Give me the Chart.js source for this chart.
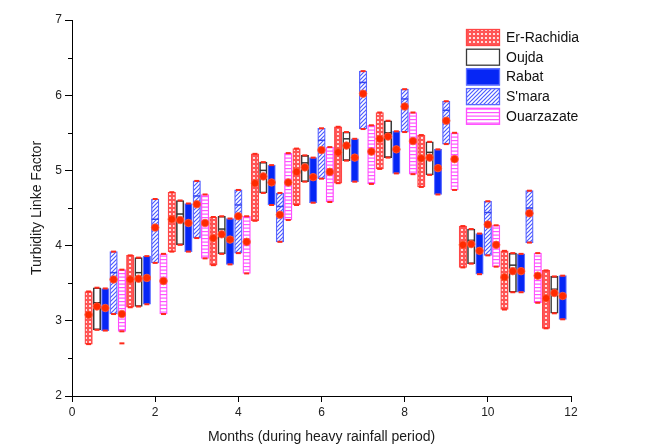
<!DOCTYPE html>
<html>
<head>
<meta charset="utf-8">
<script src="https://cdn.jsdelivr.net/npm/chart.js@4.4.0/dist/chart.umd.min.js"></script>
<style>
  html, body { margin: 0; padding: 0; background: #ffffff; }
  #wrap { width: 647px; height: 448px; }
</style>
</head>
<body>
<div id="wrap"><canvas id="chart" width="647" height="448"></canvas></div>
<script>
// months on the x axis, one group of bars per month
const months = [1, 2, 3, 4, 5, 6, 7, 8, 9, 10, 11, 12];
const stations = ['Er-Rachidia', 'Oujda', 'Rabat', "S'mara", 'Ouarzazate'];

// range (low / high) and mean of the Linke turbidity factor, per station
const erRachidiaLow  = [2.69, 3.18, 3.92, 3.74, 4.33, 4.54, 4.83, 5.02, 4.78, 3.71, 3.15, 2.90];
const erRachidiaHigh = [3.39, 3.87, 4.71, 4.38, 5.22, 5.29, 5.58, 5.77, 5.47, 4.26, 3.93, 3.67];
const erRachidiaMean = [3.08, 3.55, 4.35, 4.10, 4.83, 4.98, 5.24, 5.42, 5.16, 4.01, 3.58, 3.30];

const oujdaLow    = [2.88, 3.19, 4.01, 3.89, 4.70, 4.85, 5.13, 5.17, 4.94, 3.76, 3.38, 3.10];
const oujdaHigh   = [3.44, 3.84, 4.60, 4.39, 5.11, 5.20, 5.51, 5.66, 5.38, 4.22, 3.90, 3.59];
const oujdaMean   = [3.19, 3.56, 4.34, 4.15, 4.92, 5.04, 5.33, 5.45, 5.17, 4.02, 3.66, 3.37];
const oujdaMedian = [3.24, 3.64, 4.42, 4.22, 5.00, 5.10, 5.42, 5.50, 5.24, 4.07, 3.74, 3.42];

const rabatLow  = [2.87, 3.22, 3.92, 3.75, 4.54, 4.57, 4.85, 4.96, 4.68, 3.62, 3.38, 3.02];
const rabatHigh = [3.43, 3.86, 4.56, 4.36, 5.07, 5.17, 5.42, 5.52, 5.28, 4.16, 3.89, 3.60];
const rabatMean = [3.17, 3.57, 4.30, 4.08, 4.84, 4.91, 5.17, 5.28, 5.03, 3.93, 3.66, 3.33];

const smaraLow    = [3.09, 3.77, 4.10, 3.90, 4.05, 4.89, 5.55, 5.51, 5.35, 3.87, 4.04, null];
const smaraHigh   = [3.92, 4.62, 4.86, 4.74, 4.70, 5.56, 6.32, 6.08, 5.92, 4.59, 4.73, null];
const smaraMean   = [3.55, 4.24, 4.55, 4.39, 4.41, 5.27, 6.02, 5.85, 5.66, 4.28, 4.43, null];
const smaraMedian = [3.64, 4.35, 4.66, 4.54, 4.52, 5.40, 6.17, 5.95, 5.80, 4.44, 4.50, null];

const ouarzazateLow     = [2.86, 3.09, 3.83, 3.63, 4.34, 4.58, 4.82, 4.95, 4.74, 3.72, 3.24, null];
const ouarzazateHigh    = [3.68, 3.89, 4.68, 4.39, 5.23, 5.31, 5.60, 5.77, 5.50, 4.27, 3.90, null];
const ouarzazateMean    = [3.09, 3.53, 4.30, 4.05, 4.84, 4.98, 5.25, 5.39, 5.15, 4.01, 3.60, null];
const ouarzazateOutlier = [2.70, null, null, null, null, null, null, null, null, null, null, null];

const lows  = [erRachidiaLow, oujdaLow, rabatLow, smaraLow, ouarzazateLow];
const highs = [erRachidiaHigh, oujdaHigh, rabatHigh, smaraHigh, ouarzazateHigh];
const means = [erRachidiaMean, oujdaMean, rabatMean, smaraMean, ouarzazateMean];

const canvas = document.getElementById('chart');
const ctx = canvas.getContext('2d');

function makePattern(w, h, draw) {
  const c = document.createElement('canvas');
  c.width = w;
  c.height = h;
  const g = c.getContext('2d');
  g.fillStyle = '#ffffff';
  g.fillRect(0, 0, w, h);
  draw(g);
  return ctx.createPattern(c, 'repeat');
}

const crossRed = makePattern(4, 4, (g) => {
  g.fillStyle = '#ff5555';
  g.fillRect(0, 0, 4, 4);
  g.fillStyle = '#ffffff';
  g.beginPath();
  g.arc(2, 2, 1.1, 0, Math.PI * 2);
  g.fill();
});
const hatchBlue = makePattern(4, 4, (g) => {
  g.strokeStyle = '#4c5cff';
  g.lineWidth = 1.2;
  g.beginPath();
  g.moveTo(0, 4); g.lineTo(4, 0);
  g.moveTo(-1, 1); g.lineTo(1, -1);
  g.moveTo(3, 5); g.lineTo(5, 3);
  g.stroke();
});
const stripeMagenta = makePattern(4, 7, (g) => {
  g.fillStyle = '#ff55ff';
  g.fillRect(0, 0, 4, 1.2);
  g.fillRect(0, 3.5, 4, 1.2);
});

const fills   = [crossRed, '#ffffff', '#0626f5', hatchBlue, stripeMagenta];
const borders = ['#ff4646', '#3a3a3a', '#6070ff', '#5a66ff', '#ff4dff'];
const borderWidths = [1.3, 1.6, 1.2, 1.3, 1.3];

// x position of a station's bar inside its month group
const slot = (m, i) => m - 0.6 + 0.2 * i;

const barSets = stations.map((name, i) => ({
  type: 'bar',
  label: name,
  data: months
    .map((m, j) => lows[i][j] == null ? null : { x: slot(m, i), y: [lows[i][j], highs[i][j]] })
    .filter(Boolean),
  backgroundColor: fills[i],
  borderColor: borders[i],
  borderWidth: borderWidths[i],
  borderSkipped: false,
  barThickness: 7.5,
  grouped: false,
  order: 10
}));

const meanPoints = [];
const capPoints = [];
stations.forEach((name, i) => {
  months.forEach((m, j) => {
    if (means[i][j] == null) return;
    meanPoints.push({ x: slot(m, i), y: means[i][j] });
    capPoints.push({ x: slot(m, i), y: lows[i][j] });
    capPoints.push({ x: slot(m, i), y: highs[i][j] });
  });
});
months.forEach((m, j) => {
  if (ouarzazateOutlier[j] != null) capPoints.push({ x: slot(m, 4), y: ouarzazateOutlier[j] });
});

const medianSet = (vals, i, color) => ({
  type: 'scatter',
  label: stations[i] + ' median',
  data: months.map((m, j) => vals[j] == null ? null : { x: slot(m, i), y: vals[j] }).filter(Boolean),
  pointStyle: 'line',
  radius: 3.5,
  borderColor: color,
  borderWidth: 1.5,
  order: 3
});

const extras = {
  id: 'extras',
  afterDraw(chart) {
    const c = chart.ctx;
    const ys = chart.scales.y;
    const left = chart.chartArea.left;
    // minor ticks on the y axis
    c.save();
    c.strokeStyle = '#000';
    c.lineWidth = 1;
    for (let v = 2.5; v < 7; v += 1) {
      const py = Math.round(ys.getPixelForValue(v)) + 0.5;
      c.beginPath();
      c.moveTo(left - 4, py);
      c.lineTo(left, py);
      c.stroke();
    }
    // legend
    c.font = '14px "Liberation Sans", Arial, sans-serif';
    c.textBaseline = 'middle';
    c.fillStyle = '#111';
    barSets.forEach((ds, i) => {
      const top = 29 + i * 19.7;
      c.fillStyle = ds.backgroundColor;
      c.fillRect(466, top, 34, 17);
      c.strokeStyle = ds.borderColor;
      c.lineWidth = 1.3;
      c.strokeRect(466.5, top + 0.5, 33, 16);
      c.fillStyle = '#111';
      c.fillText(ds.label, 506, top + 9);
    });
    c.restore();
  }
};

new Chart(ctx, {
  data: {
    datasets: [
      {
        type: 'scatter',
        label: 'Mean',
        data: meanPoints,
        pointStyle: 'circle',
        radius: 3.8,
        backgroundColor: '#ff2a00',
        borderColor: '#ff5a40',
        borderWidth: 0.8,
        order: 0
      },
      {
        type: 'scatter',
        label: 'Range',
        data: capPoints,
        pointStyle: 'line',
        radius: 2.5,
        borderColor: '#ff2a1a',
        borderWidth: 2,
        order: 1
      },
      medianSet(oujdaMedian, 1, '#333333'),
      medianSet(smaraMedian, 3, '#3344ee'),
      ...barSets
    ]
  },
  options: {
    responsive: false,
    animation: false,
    layout: { padding: { left: 0, top: 20, right: 76, bottom: 0 } },
    plugins: {
      legend: { display: false },
      tooltip: { enabled: false }
    },
    scales: {
      x: {
        type: 'linear',
        min: 0,
        max: 12,
        offset: false,
        afterFit: (s) => { s.height = 52; },
        ticks: {
          stepSize: 2,
          color: '#222',
          padding: 3,
          font: { family: '"Liberation Sans", Arial, sans-serif', size: 12 }
        },
        grid: { offset: false, drawOnChartArea: false, drawTicks: true, tickLength: 6, tickColor: '#000' },
        border: { display: true, color: '#000', width: 1 },
        title: {
          display: true,
          text: 'Months (during heavy rainfall period)',
          color: '#1a1a1a',
          padding: { top: 0, bottom: 2 },
          font: { family: '"Liberation Sans", Arial, sans-serif', size: 14 }
        }
      },
      y: {
        type: 'linear',
        min: 2,
        max: 7,
        afterFit: (s) => { s.width = 72; },
        ticks: {
          stepSize: 1,
          color: '#222',
          padding: 3,
          font: { family: '"Liberation Sans", Arial, sans-serif', size: 12 }
        },
        grid: { drawOnChartArea: false, drawTicks: true, tickLength: 7, tickColor: '#000' },
        border: { display: true, color: '#000', width: 1 },
        title: {
          display: true,
          text: 'Turbidity Linke Factor',
          color: '#1a1a1a',
          padding: { top: 29, bottom: 0 },
          font: { family: '"Liberation Sans", Arial, sans-serif', size: 14 }
        }
      }
    }
  },
  plugins: [extras]
});
</script>
</body>
</html>
